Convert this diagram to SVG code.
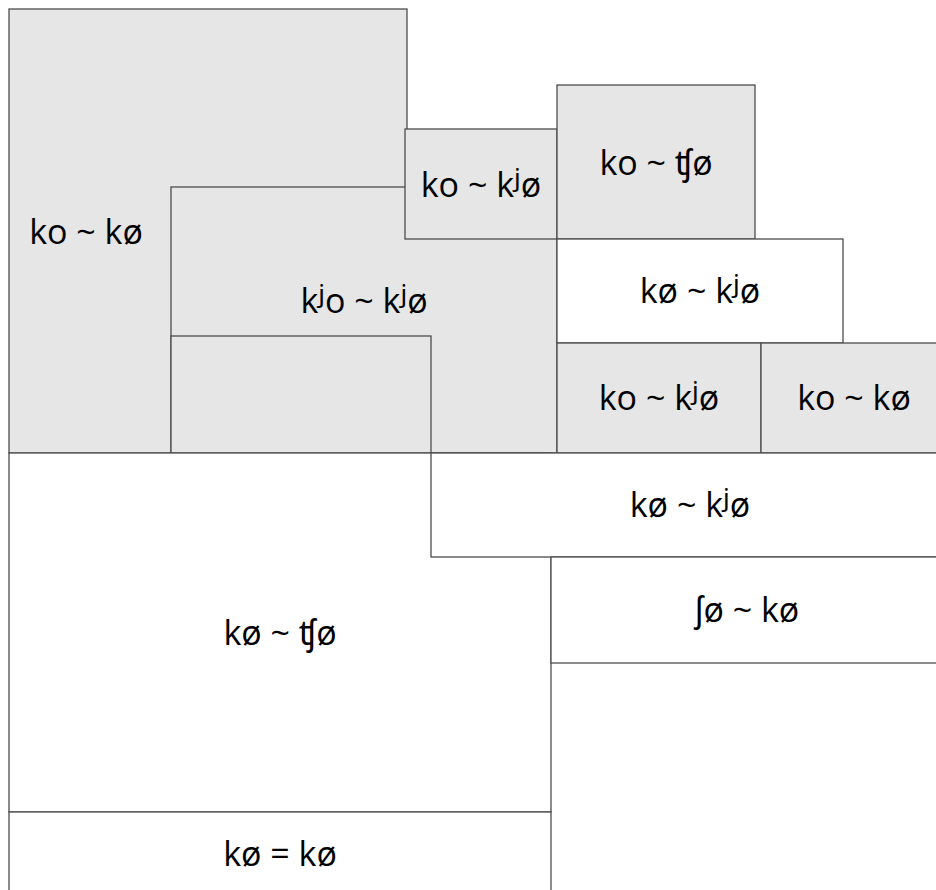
<svg xmlns="http://www.w3.org/2000/svg" width="936" height="890" viewBox="0 0 936 890">
<style>
.g{fill:#e6e6e6;stroke:#4d4d4d;stroke-width:1.3}
.w{fill:#ffffff;stroke:#4d4d4d;stroke-width:1.3}
text{font-family:"Open Sans","Noto Sans","DejaVu Sans",sans-serif;font-size:34px;fill:#000;text-anchor:middle}
.j{font-size:40px}
</style>
<rect x="0" y="0" width="936" height="890" fill="#ffffff"/>
<g id="n1"><rect class="g" x="9" y="9" width="398" height="444"/><text x="86" y="244">ko ~ kø</text></g>
<g id="n2"><rect class="g" x="171" y="187" width="386" height="266"/><text x="364" y="313">k<tspan class="j" dy="1">ʲ</tspan><tspan dy="-1">o ~ k</tspan><tspan class="j" dy="1">ʲ</tspan><tspan dy="-1">ø</tspan></text></g>
<g id="n3"><rect class="g" x="405" y="129" width="152" height="110"/><text x="481" y="197">ko ~ k<tspan class="j" dy="1">ʲ</tspan><tspan dy="-1">ø</tspan></text></g>
<g id="n4"><rect class="g" x="171" y="336" width="260" height="117"/></g>
<g id="n5"><rect class="g" x="557" y="85" width="198" height="154"/><text x="656" y="175">ko ~ ʧø</text></g>
<g id="n6"><rect class="w" x="557" y="239" width="286" height="104"/><text x="700" y="303">kø ~ k<tspan class="j" dy="1">ʲ</tspan><tspan dy="-1">ø</tspan></text></g>
<g id="n7"><rect class="g" x="557" y="343" width="204" height="110"/><text x="659" y="410">ko ~ k<tspan class="j" dy="1">ʲ</tspan><tspan dy="-1">ø</tspan></text></g>
<g id="n8"><rect class="g" x="761" y="343" width="187" height="110"/><text x="854" y="410">ko ~ kø</text></g>
<g id="n9"><rect class="w" x="9" y="453" width="542" height="359"/><text x="280" y="645">kø ~ ʧø</text></g>
<g id="n10"><rect class="w" x="9" y="812" width="542" height="90"/><text x="280" y="866">kø = kø</text></g>
<g id="n11"><rect class="w" x="431" y="453" width="517" height="104"/><text x="690" y="517">kø ~ k<tspan class="j" dy="1">ʲ</tspan><tspan dy="-1">ø</tspan></text></g>
<g id="n12"><rect class="w" x="551" y="557" width="397" height="106"/><text x="747" y="622">ʃø ~ kø</text></g>
</svg>
